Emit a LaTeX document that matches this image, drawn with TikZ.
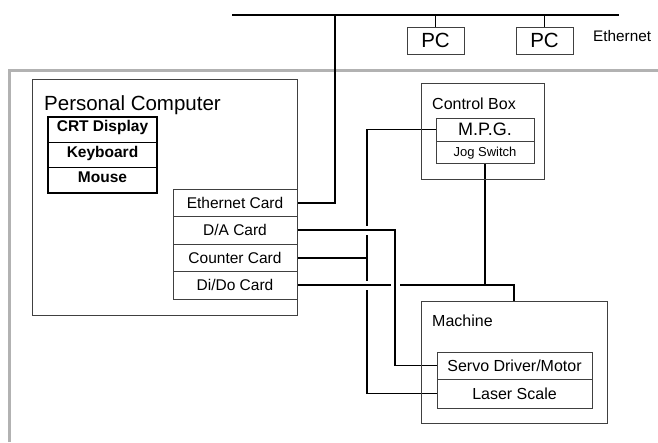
\documentclass[tikz,border=0pt]{standalone}
\usepackage{fontspec}
\setmainfont{Liberation Sans}
\usetikzlibrary{backgrounds}

\begin{document}
\begin{tikzpicture}[x=1pt, y=-1pt,
    frame/.style={draw=black!75, line width=1pt, inner sep=0pt},
    pcnode/.style={frame, minimum width=57pt, minimum height=27pt,
        font=\fontsize{20.5}{24}\selectfont, text height=14.7pt, text depth=0pt},
    card/.style={frame, minimum width=124pt, minimum height=27.5pt,
        font=\fontsize{15.5}{18}\selectfont, text height=11.1pt, text depth=0pt},
    inbox/.style={draw=black, line width=1.6pt, inner sep=0pt,
        minimum width=109pt, minimum height=25.3pt,
        font=\bfseries\fontsize{15.5}{18}\selectfont, text height=11.5pt, text depth=7pt},
    title/.style={anchor=base west, inner sep=0pt},
    wire/.style={line width=1.6pt},
    hop/.style={wire, preaction={draw=white, line width=9pt}}]
    \useasboundingbox (0,0) rectangle (658,442);

    % Ethernet
    \coordinate (busL) at (232,15);
    \coordinate (busR) at (619,15);
    \coordinate (tap) at (335,15);
    \node[pcnode] (pc1) at (435.5,40.5) {PC};
    \node[pcnode] (pc2) at (544.5,40.5) {PC};
    \node[title, font=\fontsize{15.3}{18}\selectfont] (ethlbl) at (593,41) {Ethernet};

    % Personal Computer
    \node[frame, minimum width=265pt, minimum height=236pt] (pcbox) at (164.5,197) {};
    \node[title, font=\fontsize{20.5}{24}\selectfont] (pctitle) at (44,110) {Personal Computer};
    \node[inbox] (crt) at (102.5,129.7) {CRT Display};
    \node[inbox] (kbd) at (102.5,155) {Keyboard};
    \node[inbox] (mouse) at (102.5,180.3) {Mouse};
    \node[card] (ethcard) at (235,202.75) {Ethernet Card};
    \node[card] (dacard) at (235,230.25) {D/A Card};
    \node[card] (ctcard) at (235,257.75) {Counter Card};
    \node[card] (dicard) at (235,285.25) {Di/Do Card};

    % Control Box
    \node[frame, minimum width=123pt, minimum height=96pt] (ctrlbox) at (482.5,131) {};
    \node[title, font=\fontsize{16}{19}\selectfont] (ctrltitle) at (432,109) {Control Box};
    \node[frame, minimum width=98pt, minimum height=23pt,
        font=\fontsize{18}{21}\selectfont, text height=12.9pt, text depth=0pt] (mpg) at (485,129.5) {M.P.G.};
    \node[frame, minimum width=98pt, minimum height=22pt,
        font=\fontsize{13}{16}\selectfont, text height=9.3pt, text depth=0pt] (jog) at (485,152) {Jog Switch};

    % Machine
    \node[frame, minimum width=186pt, minimum height=122pt] (machine) at (514,362) {};
    \node[title, font=\fontsize{16}{19}\selectfont] (mtitle) at (432,326) {Machine};
    \node[card, minimum width=155pt, minimum height=27pt, font=\fontsize{16}{19}\selectfont,
        text height=11.5pt] (servo) at (514.5,365.5) {Servo Driver/Motor};
    \node[card, minimum width=155pt, minimum height=29pt, font=\fontsize{16}{19}\selectfont,
        text height=11.5pt] (laser) at (514.5,393.5) {Laser Scale};

    \coordinate (scalex) at (367,0);
    \coordinate (dabend) at (395,0);

    % Connections
    \begin{scope}[on background layer]
        \draw[black!30, line width=3pt] (9,442) -- (9,70) -- (658,70);
        \draw[wire] (busL) -- (busR);
        \draw[wire] (pc1.north) -- (pc1.north |- busL);
        \draw[wire] (pc2.north) -- (pc2.north |- busL);
        \draw[wire, line width=2pt] (ethcard.east) -| (tap);
        \draw[wire] (mpg.west) -| (scalex |- laser.west) -- (laser.west);
        \draw[wire] (ctcard.east) -- (scalex |- ctcard.east);
        \draw[hop] (dicard.east) -| (machine.north);
        \draw[wire] (jog.south) -- (jog.south |- dicard.east);
        \draw[hop] (dacard.east) -| (dabend |- servo.west) -- (servo.west);
    \end{scope}
\end{tikzpicture}
\end{document}
